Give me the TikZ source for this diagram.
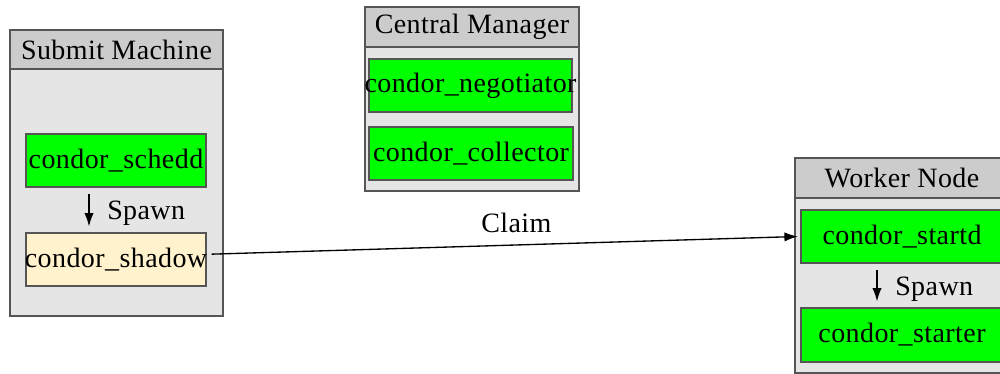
\documentclass[tikz,border=0pt]{standalone}
\usepackage{fontspec}
\setmainfont[LetterSpace=1.5]{Liberation Serif}
\usetikzlibrary{arrows.meta}
\definecolor{boxgray}{HTML}{E5E5E5}
\definecolor{hdrgray}{HTML}{CCCCCC}
\definecolor{edgegray}{HTML}{555555}
\definecolor{dgreen}{HTML}{00FF00}
\definecolor{shadowfill}{HTML}{FFF2CC}
\newcommand{\nowide}[1]{\makebox[0pt][c]{#1}}
\tikzset{
  px/.style={x=0.75pt,y=-0.75pt},
  machine/.style={draw=edgegray, fill=boxgray, line width=0.9pt, inner sep=0pt, rectangle},
  hdr/.style={draw=edgegray, fill=hdrgray, line width=0.9pt, inner sep=0pt, rectangle, font=\fontsize{21}{25}\selectfont},
  daemon/.style={draw=edgegray, fill=dgreen, line width=0.9pt, inner sep=0pt, rectangle, font=\fontsize{21}{25}\selectfont},
  shadowbox/.style={daemon, fill=shadowfill},
  lbl/.style={inner sep=0pt, font=\fontsize{21}{25}\selectfont},
  arr/.style={-{Latex[length=10pt,width=7pt]}, line width=1pt, black}
}
\begin{document}
\begin{tikzpicture}[px]
\useasboundingbox (0,0) rectangle (1000,374);
\clip (0,0) rectangle (1000,374);
\fill[white] (0,0) rectangle (1000,374);
% Submit machine
\node[machine, minimum width=159.75pt, minimum height=214.5pt] (submit) at (116.5,173) {};
\node[hdr, minimum width=159.75pt, minimum height=29.25pt] (submithdr) at (116.5,49.5) {\nowide{Submit Machine}};
\node[daemon, minimum width=135pt, minimum height=39.75pt] (schedd) at (116,160.5) {\nowide{condor\_schedd}};
\node[shadowbox, minimum width=135pt, minimum height=39.75pt] (shadow) at (116,259.5) {\nowide{condor\_shadow}};
\draw[arr] ([xshift=-20.25pt,yshift=-4.5pt]schedd.south) -- ([xshift=-20.25pt,yshift=4.5pt]shadow.north);
\node[lbl, anchor=west] (spawn1) at (107,213) {Spawn};
% Central manager
\node[machine, minimum width=160.5pt, minimum height=138pt] (central) at (472,99) {};
\node[hdr, minimum width=160.5pt, minimum height=30pt] (centralhdr) at (472,27) {\nowide{Central Manager}};
\node[daemon, minimum width=152.25pt, minimum height=39.75pt] (negotiator) at (470.5,85.5) {\nowide{condor\_negotiator}};
\node[daemon, minimum width=153pt, minimum height=39.75pt] (collector) at (471,153.5) {\nowide{condor\_collector}};
% Worker node
\node[machine, minimum width=160.5pt, minimum height=161.25pt] (worker) at (902,265.5) {};
\node[hdr, minimum width=160.5pt, minimum height=30pt] (workerhdr) at (902,178) {\nowide{Worker Node}};
\node[daemon, minimum width=151.5pt, minimum height=39.75pt] (startd) at (902,236.5) {\nowide{condor\_startd}};
\node[daemon, minimum width=151.5pt, minimum height=40.5pt] (starter) at (902,335) {\nowide{condor\_starter}};
\draw[arr] ([xshift=-18.75pt,yshift=-4.5pt]startd.south) -- ([xshift=-18.75pt,yshift=4.5pt]starter.north);
\node[lbl, anchor=west] (spawn2) at (895,289) {Spawn};
% Claim
\draw[arr] ([xshift=3.75pt,yshift=4pt]shadow.east) -- node[lbl, above=9pt, pos=0.52] (claim) {Claim} ([xshift=-2pt]startd.west);
\end{tikzpicture}
\end{document}
